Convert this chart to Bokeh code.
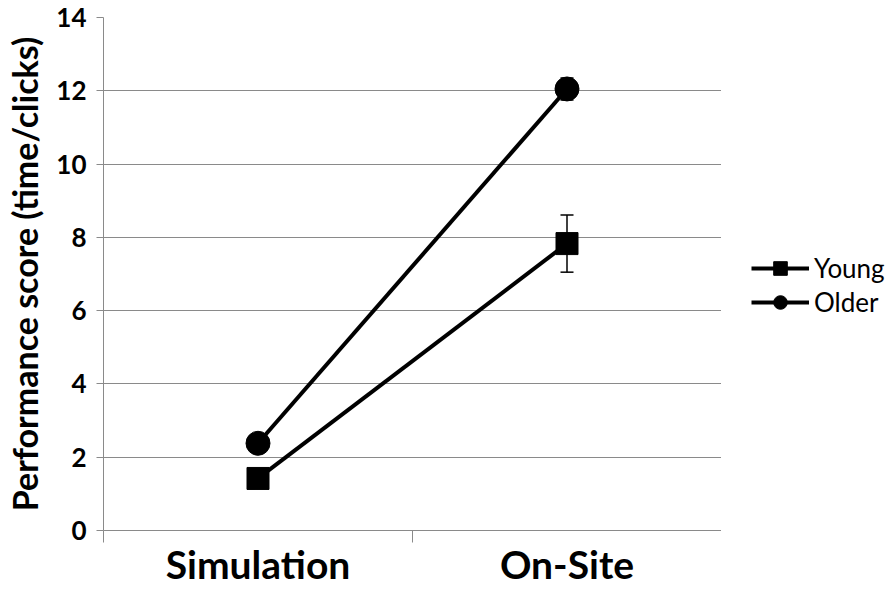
from bokeh.plotting import figure
from bokeh.layouts import row
from bokeh.models import (FixedTicker, Whisker, ColumnDataSource, Legend, LegendItem,
                          Range1d, TeeHead)
from bokeh.embed import file_html
from bokeh.resources import INLINE

categories = ["Simulation", "On-Site"]
young = [1.42, 7.83]
young_err = [0.12, 0.78]
older = [2.38, 12.05]
older_err = [0.12, 0.30]
y_ticks = [0, 2, 4, 6, 8, 10, 12, 14]
y_label = "Performance score (time/clicks)"
series_names = ["Young", "Older"]

FONT = "Lato"
GRAY = "#8a8a8a"
H = 590

xs = [i + 0.5 for i in range(len(categories))]

p = figure(width=721, height=H, output_backend="svg", toolbar_location=None,
           x_range=Range1d(0, len(categories)), y_range=Range1d(0, 14),
           min_border_left=103, min_border_right=0, min_border_top=17,
           min_border_bottom=60)
p.outline_line_color = None
p.background_fill_color = "white"
p.border_fill_color = "white"

# axes
p.xaxis.ticker = FixedTicker(ticks=xs, minor_ticks=list(range(len(categories) + 1)))
p.xaxis.major_label_overrides = {x: c for x, c in zip(xs, categories)}
p.xaxis.major_tick_line_color = None
p.xaxis.minor_tick_line_color = GRAY
p.xaxis.minor_tick_out = 12
p.xaxis.minor_tick_in = 0
p.xaxis.axis_line_color = GRAY
p.xaxis.major_label_text_font = FONT
p.xaxis.major_label_text_font_style = "bold"
p.xaxis.major_label_text_font_size = "39px"
p.xaxis.major_label_text_color = "black"
p.xaxis.major_label_standoff = -2

p.yaxis.ticker = FixedTicker(ticks=y_ticks, minor_ticks=[])
p.yaxis.axis_line_color = GRAY
p.yaxis.major_tick_line_color = GRAY
p.yaxis.major_tick_out = 7
p.yaxis.major_tick_in = 0
p.yaxis.major_label_text_font = FONT
p.yaxis.major_label_text_font_style = "bold"
p.yaxis.major_label_text_font_size = "26px"
p.yaxis.major_label_text_color = "black"
p.yaxis.major_label_standoff = 10
p.yaxis.axis_label = y_label
p.yaxis.axis_label_text_font = FONT
p.yaxis.axis_label_text_font_style = "bold"
p.yaxis.axis_label_text_font_size = "34px"
p.yaxis.axis_label_text_color = "black"
p.yaxis.axis_label_standoff = 8

p.xgrid.grid_line_color = None
p.ygrid.grid_line_color = GRAY
p.ygrid.grid_line_width = 1

# data
src_y = ColumnDataSource(dict(x=xs, y=young, upper=[v + e for v, e in zip(young, young_err)],
                              lower=[v - e for v, e in zip(young, young_err)]))
src_o = ColumnDataSource(dict(x=xs, y=older, upper=[v + e for v, e in zip(older, older_err)],
                              lower=[v - e for v, e in zip(older, older_err)]))


def draw(fig):
    ly = fig.line("x", "y", source=src_y, line_color="black", line_width=4)
    sy = fig.scatter("x", "y", source=src_y, marker="square", size=22, color="black")
    lo = fig.line("x", "y", source=src_o, line_color="black", line_width=4)
    so = fig.scatter("x", "y", source=src_o, marker="circle", size=24, color="black")
    return [[ly, sy], [lo, so]]


draw(p)
for src in (src_y, src_o):
    w = Whisker(base="x", upper="upper", lower="lower", source=src,
                line_color="black", line_width=1.5,
                upper_head=TeeHead(size=13, line_color="black", line_width=1.5),
                lower_head=TeeHead(size=13, line_color="black", line_width=1.5))
    p.add_layout(w)

# legend panel: same series, ranges set so only the legend shows
lg = figure(width=165, height=H, output_backend="svg", toolbar_location=None,
            x_range=Range1d(-10, -9), y_range=Range1d(-10, -9),
            x_axis_location=None, y_axis_location=None, min_border=0)
lg.outline_line_color = None
lg.grid.visible = False
rends = draw(lg)
legend = Legend(items=[LegendItem(label=n, renderers=r) for n, r in zip(series_names, rends)],
                location=(30, 211), border_line_color=None, background_fill_alpha=0,
                padding=0, margin=0, spacing=-1, glyph_width=58, glyph_height=34,
                label_standoff=5, label_text_font=FONT, label_text_font_size="26px",
                label_text_color="black")
lg.add_layout(legend)

layout = row(p, lg, spacing=0)
open("out.html", "w").write(file_html(layout, INLINE))
